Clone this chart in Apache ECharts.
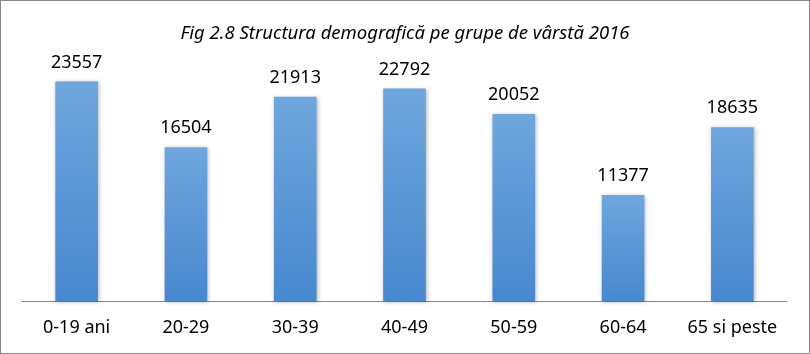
<!DOCTYPE html>
<html>
<head>
    <meta charset="utf-8">
    <title>Structura demografica</title>
    <script src="https://cdn.jsdelivr.net/npm/echarts@6/dist/echarts.min.js"></script>
    <style>
        html, body { margin: 0; padding: 0; background: #fff; }
        #chart { width: 808px; height: 352px; border: 1px solid #868686; }
    </style>
</head>
<body>
<div id="chart"></div>
<script type="text/javascript">
    // date
    var grupe = ['0-19 ani', '20-29', '30-39', '40-49', '50-59', '60-64', '65 si peste'];
    var populatie = [23557, 16504, 21913, 22792, 20052, 11377, 18635];

    var myChart = echarts.init(document.getElementById('chart'));

    myChart.setOption({
        animation: false,
        title: {
            text: 'Fig 2.8 Structura demografică pe grupe de vârstă 2016',
            left: 'center',
            top: 18,
            textStyle: {
                fontFamily: 'Noto Sans, sans-serif',
                fontStyle: 'italic',
                fontWeight: 'normal',
                fontSize: 18.5,
                color: '#000'
            }
        },
        grid: {
            left: 21,
            right: 22,
            top: 67,
            bottom: 52
        },
        xAxis: {
            type: 'category',
            data: grupe,
            axisLine: { lineStyle: { color: '#868686', width: 1 } },
            axisTick: { show: false },
            axisLabel: {
                interval: 0,
                margin: 18,
                fontFamily: 'Noto Sans, sans-serif',
                fontSize: 18,
                color: '#000'
            }
        },
        yAxis: {
            type: 'value',
            min: 0,
            max: 25000,
            show: false,
            splitLine: { show: false }
        },
        series: [{
            type: 'bar',
            data: populatie,
            barWidth: '39%',
            itemStyle: {
                color: new echarts.graphic.LinearGradient(0, 0, 0, 1, [
                    { offset: 0, color: '#6fa6dd' },
                    { offset: 1, color: '#4788cf' }
                ]),
                shadowColor: 'rgba(0,0,0,0.3)',
                shadowBlur: 4,
                shadowOffsetX: 1,
                shadowOffsetY: 1
            },
            label: {
                show: true,
                position: 'top',
                distance: 10,
                fontFamily: 'Noto Sans, sans-serif',
                fontSize: 18,
                color: '#000'
            }
        }]
    });
</script>
</body>
</html>
